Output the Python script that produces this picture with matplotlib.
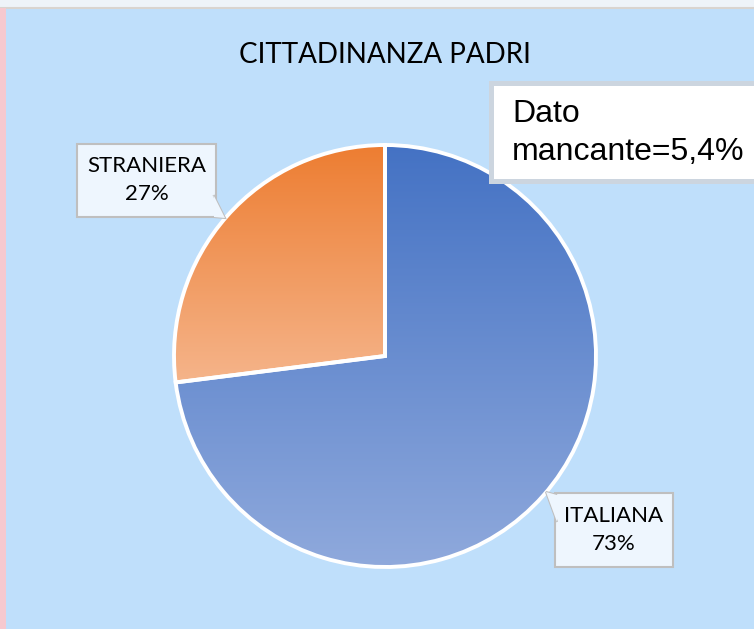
import numpy as np
import matplotlib
matplotlib.use("Agg")
import matplotlib.pyplot as plt
from matplotlib.colors import LinearSegmentedColormap
from matplotlib.patches import Rectangle, Polygon

categories = ["ITALIANA", "STRANIERA"]
values = [73, 27]
title = "CITTADINANZA PADRI"
note = "Dato\nmancante=5,4%"

W, H = 754, 629
fig = plt.figure(figsize=(W / 100, H / 100), dpi=100)
fig.patch.set_facecolor("#BFDFFB")
ax = fig.add_axes([0, 0, 1, 1])
ax.set_xlim(0, W)
ax.set_ylim(0, H)
ax.set_aspect("equal")
ax.axis("off")

def Y(y):
    return H - y

# frame decorations
ax.add_patch(Rectangle((0, Y(8)), W, 8, facecolor="#EEF3F8", edgecolor="none", zorder=0))
ax.plot([0, W], [Y(8), Y(8)], color="#D9D4CF", lw=1.5, zorder=1)
ax.add_patch(Rectangle((0, 0), 6, Y(8), facecolor="#F6C9CF", edgecolor="none", zorder=1))

cx, cy, r = 385, Y(356), 211
wedges, _ = ax.pie(values, center=(cx, cy), radius=r, startangle=90,
                   counterclock=False, frame=True,
                   wedgeprops=dict(facecolor="none", edgecolor="none"))
ax.set_xlim(0, W)
ax.set_ylim(0, H)
ax.set_aspect("equal")
ax.axis("off")

grads = [("#4472C4", "#8FA9DC"), ("#ED7D31", "#F5B48A")]
for w, (c_top, c_bot) in zip(wedges, grads):
    bb = w.get_path().get_extents()
    cmap = LinearSegmentedColormap.from_list("g", [c_bot, c_top])
    grad = np.linspace(0, 1, 256).reshape(-1, 1)
    im = ax.imshow(grad, cmap=cmap, origin="lower", aspect="auto",
                   extent=[bb.x0, bb.x1, bb.y0, bb.y1], zorder=2)
    im.set_clip_path(w)
    w.set_edgecolor("white")
    w.set_linewidth(2.8)
    w.set_zorder(3)

ax.set_xlim(0, W)
ax.set_ylim(0, H)

ax.text(385, Y(55), title, ha="center", va="center", fontsize=20,
        family="Lato", color="black", zorder=5)

def callout(x0, y0, x1, y1, text, ptr, base):
    ax.add_patch(Rectangle((x0, Y(y1)), x1 - x0, y1 - y0, facecolor="#EEF6FE",
                           edgecolor="#BFBFBF", lw=1.5, zorder=6))
    pts = [(base[0][0], Y(base[0][1])), (ptr[0], Y(ptr[1])), (base[1][0], Y(base[1][1]))]
    ax.add_patch(Polygon(pts, closed=False, facecolor="#EEF6FE",
                         edgecolor="#BFBFBF", lw=1.5, zorder=6))
    ax.add_patch(Polygon(pts, closed=True, facecolor="#EEF6FE",
                         edgecolor="none", zorder=7))
    ax.text((x0 + x1) / 2, Y((y0 + y1) / 2), text, ha="center", va="center",
            fontsize=16, family="Lato", linespacing=1.5, zorder=8)

callout(77, 144, 216, 217, "STRANIERA\n27%", (225, 218),
        [(213.5, 195), (214, 217)])
callout(555, 493, 673, 567, "ITALIANA\n73%", (546, 492),
        [(557, 495), (557, 522)])

# note box
ax.add_patch(Rectangle((489, Y(184)), 280, 103, facecolor="#CCD5DF",
                       edgecolor="none", zorder=9))
ax.add_patch(Rectangle((494, Y(179)), 275, 93, facecolor="white",
                       edgecolor="none", zorder=10))
ax.text(512, Y(133), note, ha="left", va="center", fontsize=23,
        family="Liberation Sans", linespacing=1.35, zorder=11)

fig.savefig("out.png", dpi=100, facecolor=fig.get_facecolor())
